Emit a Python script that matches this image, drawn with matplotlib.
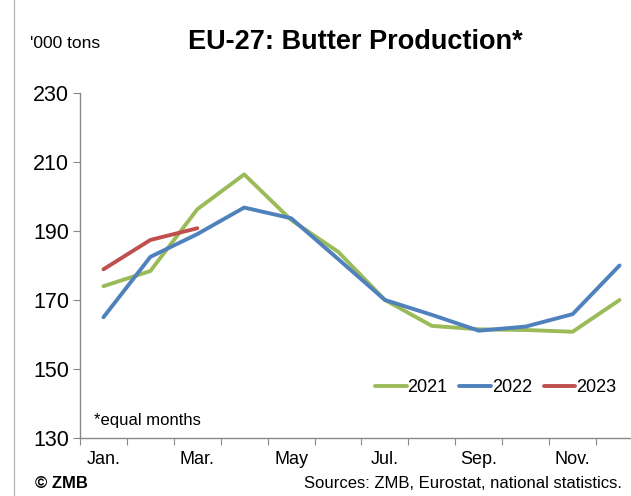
import matplotlib.pyplot as plt
from matplotlib.lines import Line2D

plt.rcParams['font.family'] = ['Liberation Sans', 'DejaVu Sans']

months = ['Jan.', 'Feb.', 'Mar.', 'Apr.', 'May', 'Jun.', 'Jul.', 'Aug.', 'Sep.', 'Oct.', 'Nov.', 'Dec.']
prod_2021 = [174, 178.4, 196.3, 206.4, 193.2, 184, 170, 162.5, 161.5, 161.3, 160.8, 170]
prod_2022 = [165, 182.5, 189.1, 196.8, 193.7, 181.9, 170, 165.7, 161.1, 162.3, 165.9, 180]
prod_2023 = [178.9, 187.4, 190.8]

fig = plt.figure(figsize=(6.31, 4.96), dpi=100)
ax = fig.add_axes([80/631, 1-438/496, 563/631, (438-93)/496])

x = list(range(len(months)))
ax.plot(x, prod_2021, color='#9BBB59', lw=2.8, label='2021', solid_capstyle='round')
ax.plot(x, prod_2022, color='#4F81BD', lw=2.8, label='2022', solid_capstyle='round')
ax.plot(x[:len(prod_2023)], prod_2023, color='#C0504D', lw=2.8, label='2023', solid_capstyle='round')

ax.set_xlim(-0.5, 11.5)
ax.set_ylim(130, 230)
ax.set_yticks([130, 150, 170, 190, 210, 230])
ax.tick_params(axis='y', labelsize=15.5, length=5, color='#888888', pad=3)

# category axis: ticks between months, labels on every other month
ax.set_xticks([i - 0.5 for i in range(13)])
ax.set_xticklabels([])
ax.set_xticks(x[::2], minor=True)
ax.set_xticklabels(months[::2], minor=True, fontsize=13)
ax.tick_params(axis='x', which='major', length=5, color='#888888', direction='out')
ax.tick_params(axis='x', which='minor', length=0, pad=9)

for s in ['top', 'right']:
    ax.spines[s].set_visible(False)
for s in ['left', 'bottom']:
    ax.spines[s].set_color('#888888')
    ax.spines[s].set_linewidth(1)

leg = ax.legend(loc='lower right', bbox_to_anchor=(0.975, 0.085), ncol=3, frameon=False,
                fontsize=13, handlelength=1.75, handletextpad=0.05, columnspacing=0.65,
                borderpad=0.2)

ax.text(94, 496-420, '*equal months', transform=None, fontsize=12, va='center')
fig.text(355/631, 1-42/496, 'EU-27: Butter Production*', fontsize=19.5, fontweight='bold',
         ha='center', va='center')
fig.text(30/631, 1-44/496, "'000 tons", fontsize=12.5, va='center')
fig.text(35/631, 1-484/496, '© ZMB', fontsize=12, fontweight='bold', va='center')
fig.text(622/631, 1-484/496, 'Sources: ZMB, Eurostat, national statistics.', fontsize=12,
         ha='right', va='center')

# thin chart frame edge on the left
fig.add_artist(Line2D([13.5/631, 13.5/631], [0, 1], color='#BBBBBB', lw=1))

fig.savefig('out.png', dpi=100)
